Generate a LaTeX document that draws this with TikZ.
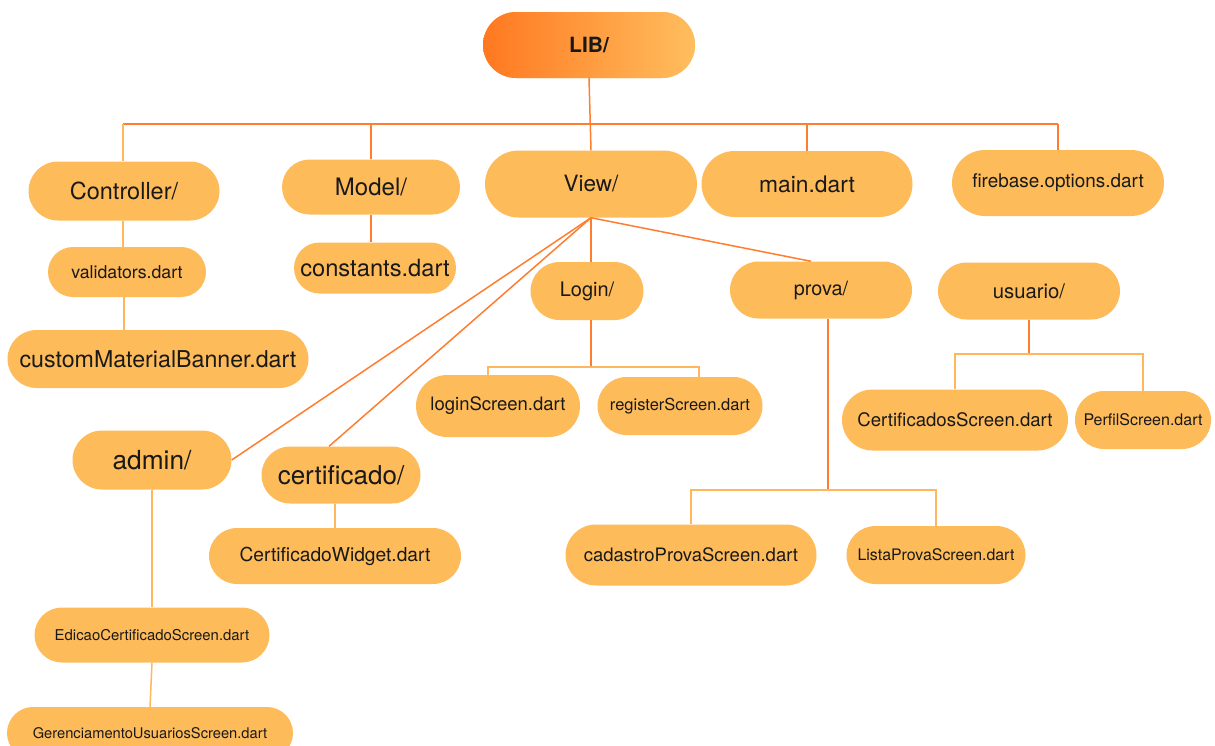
\documentclass[tikz,border=0pt]{standalone}
\usepackage{fontspec}
\setmainfont{TeX Gyre Heros}
\usepackage{tikz}
\usetikzlibrary{positioning,shapes.misc}
\definecolor{pillfill}{HTML}{FEBB5A}
\definecolor{trunkline}{HTML}{FF7D2E}
\definecolor{twigline}{HTML}{FFB65C}
\definecolor{libleft}{HTML}{FF7820}
\definecolor{libright}{HTML}{FFBE5E}
\newcommand{\fsz}[1]{\fontsize{#1}{#1}\selectfont}
\tikzstyle{pill} = [rounded rectangle, fill=pillfill, inner sep=0pt, text=black!90,
    align=center]
\tikzstyle{trunk} = [draw=trunkline, line width=1.5pt]
\tikzstyle{twig} = [draw=twigline, line width=1.5pt]

\begin{document}
\begin{tikzpicture}[x=1pt, y=-1pt]
\clip (0,0) rectangle (1215,745);
    % Place nodes
    \node [pill, left color=libleft, right color=libright, minimum width=212pt,
        minimum height=66pt, font=\fsz{21}\bfseries] (lib) at (589,45) {LIB/};
    \node [pill, minimum width=191pt, minimum height=59pt, font=\fsz{23.5}] (ctrl) at (124,191) {Controller/};
    \node [pill, minimum width=178pt, minimum height=55pt, font=\fsz{24}] (model) at (371,187) {Model/};
    \node [pill, minimum width=212pt, minimum height=67pt, font=\fsz{22.5}] (view) at (591,184) {View/};
    \node [pill, minimum width=211pt, minimum height=66pt, font=\fsz{22.8}] (main) at (807,184) {main.dart};
    \node [pill, minimum width=212pt, minimum height=66pt, font=\fsz{18.9}] (fire) at (1058,183) {firebase.options.dart};
    \node [pill, below of=ctrl, node distance=81pt, xshift=3pt, minimum width=158pt,
        minimum height=50pt, font=\fsz{17.7}] (valid) {validators.dart};
    \node [pill, below of=valid, node distance=87pt, xshift=31pt, minimum width=301pt,
        minimum height=58pt, font=\fsz{23.2}] (banner) {customMaterialBanner.dart};
    \node [pill, below of=model, node distance=81pt, xshift=4pt, minimum width=162pt,
        minimum height=51pt, font=\fsz{23.7}] (const) {constants.dart};
    \node [pill, minimum width=113pt, minimum height=58pt, font=\fsz{20}] (login) at (587,291) {Login/};
    \node [pill, minimum width=182pt, minimum height=57pt, font=\fsz{19.8}] (prova) at (821,290) {prova/};
    \node [pill, minimum width=182pt, minimum height=57pt, font=\fsz{20.3}] (usuario) at (1029,291) {usuario/};
    \node [pill, minimum width=164pt, minimum height=62pt, font=\fsz{18.5}] (logscr) at (498,406) {loginScreen.dart};
    \node [pill, right of=logscr, node distance=182pt, minimum width=165pt,
        minimum height=58pt, font=\fsz{16.5}] (regscr) {registerScreen.dart};
    \node [pill, minimum width=226pt, minimum height=61pt, font=\fsz{18.6}] (certs) at (955,420) {CertificadosScreen.dart};
    \node [pill, right of=certs, node distance=188pt, minimum width=136pt,
        minimum height=58pt, font=\fsz{16}] (perfil) {PerfilScreen.dart};
    \node [pill, minimum width=159pt, minimum height=59pt, font=\fsz{26.3}] (admin) at (152,460) {admin/};
    \node [pill, minimum width=159pt, minimum height=57pt, font=\fsz{26}] (certif) at (341,475) {certificado/};
    \node [pill, below of=certif, node distance=81pt, xshift=-6pt, minimum width=252pt,
        minimum height=56pt, font=\fsz{19.2}] (widget) {CertificadoWidget.dart};
    \node [pill, minimum width=251pt, minimum height=61pt, font=\fsz{18.5}] (cadprova) at (691,555) {cadastroProvaScreen.dart};
    \node [pill, right of=cadprova, node distance=245pt, minimum width=179pt,
        minimum height=58pt, font=\fsz{15.9}] (lista) {ListaProvaScreen.dart};
    \node [pill, below of=admin, node distance=175pt, minimum width=235pt,
        minimum height=55pt, font=\fsz{14.9}] (edicao) {EdicaoCertificadoScreen.dart};
    \node [pill, below of=edicao, node distance=98pt, xshift=-2pt, minimum width=286pt,
        minimum height=52pt, font=\fsz{14.7}] (gerenc) {GerenciamentoUsuariosScreen.dart};

    % Draw edges
    \coordinate (bar) at (0,124);
    \coordinate (lbar) at (0,367);
    \coordinate (pbar) at (0,490);
    \coordinate (ubar) at (0,354);
    \path [trunk] (lib.south) -- (view.north);
    \path [trunk] ([xshift=-1pt]ctrl.north |- bar) -- (fire.north |- bar);
    \path [twig] ([xshift=-1pt]ctrl.north) -- ([xshift=-1pt]ctrl.north |- bar);
    \path [trunk] (model.north) -- (model.north |- bar);
    \path [trunk] (main.north) -- (main.north |- bar);
    \path [trunk] (fire.north) -- (fire.north |- bar);
    \path [twig] ([xshift=-1pt]ctrl.south) -- ([xshift=-1pt]ctrl.south |- valid.north);
    \path [twig] (valid.south -| ctrl.south) -- (banner.north -| ctrl.south);
    \path [trunk] (model.south) -- (model.south |- const.north);
    \path [trunk] (view.south) -- (admin.east);
    \path [trunk] (view.south) -- ([xshift=-12pt]certif.north);
    \path [trunk] (view.south) -- (view.south |- login.north);
    \path [trunk] (view.south) -- ([xshift=-10pt]prova.north);
    \path [trunk] (view.south |- login.south) -- (view.south |- lbar);
    \path [twig] ([xshift=-10pt]logscr.north) |- ([xshift=19pt]regscr.north |- lbar)
        -- ([xshift=19pt]regscr.north);
    \path [trunk] ([xshift=7pt]prova.south) -- ([xshift=7pt]prova.south |- pbar);
    \path [twig] (cadprova.north) |- (lista.north |- pbar) -- (lista.north);
    \path [trunk] (usuario.south) -- (usuario.south |- ubar);
    \path [twig] (certs.north) |- (perfil.north |- ubar) -- (perfil.north);
    \path [twig] (admin.south) -- (edicao.north);
    \path [twig] (edicao.south) -- (gerenc.north);
    \path [twig] (widget.north) -- (widget.north |- certif.south);

\end{tikzpicture}
\end{document}
